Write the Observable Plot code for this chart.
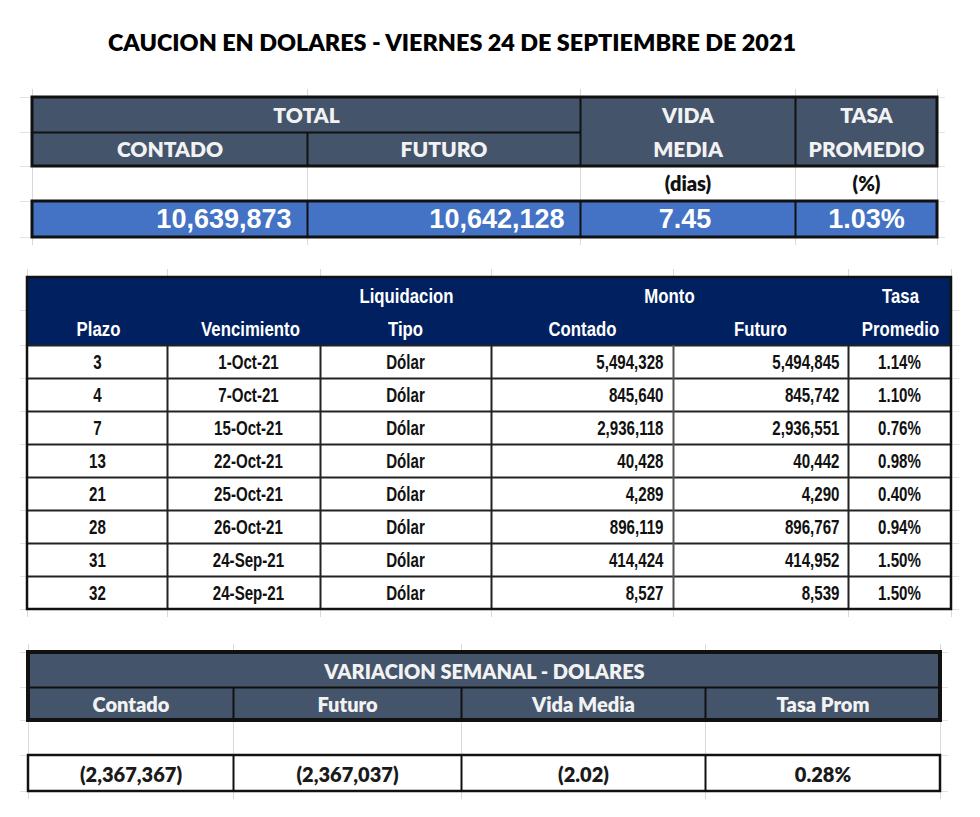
<!DOCTYPE html>
<html><head><meta charset="utf-8">
<script src="https://cdn.jsdelivr.net/npm/d3@7"></script>
<script src="https://cdn.jsdelivr.net/npm/@observablehq/plot@0.6"></script>
<style>
body{margin:0;background:#fff;width:980px;overflow:hidden;}
#title{height:70px;position:relative;font-family:Lato,"Open Sans",sans-serif;font-weight:800;font-size:23px;color:#000;}
#title span{position:absolute;left:108px;top:29px;white-space:nowrap;transform-origin:0 50%;line-height:26px;display:inline-block}
#chart svg{display:block}
</style></head><body>
<div id="title"><span id="t"></span></div>
<div id="chart"></div>
<script>
// ---------- DATA ----------
const title = "CAUCION EN DOLARES - VIERNES 24 DE SEPTIEMBRE DE 2021";

// Table 1: totals
const t1Header1 = ["TOTAL", "VIDA", "TASA"];
const t1Header2 = ["CONTADO", "FUTURO", "MEDIA", "PROMEDIO"];
const t1Units = ["(dias)", "(%)"];
const totalContado = 10639873;
const totalFuturo = 10642128;
const vidaMedia = 7.45;
const tasaPromedio = 1.03;

// Table 2: detail by term
const t2Header1 = ["Liquidacion", "Monto", "Tasa"];
const t2Header2 = ["Plazo", "Vencimiento", "Tipo", "Contado", "Futuro", "Promedio"];
const plazo = [3, 4, 7, 13, 21, 28, 31, 32];
const vencimiento = ["1-Oct-21", "7-Oct-21", "15-Oct-21", "22-Oct-21", "25-Oct-21", "26-Oct-21", "24-Sep-21", "24-Sep-21"];
const tipo = ["Dólar", "Dólar", "Dólar", "Dólar", "Dólar", "Dólar", "Dólar", "Dólar"];
const montoContado = [5494328, 845640, 2936118, 40428, 4289, 896119, 414424, 8527];
const montoFuturo = [5494845, 845742, 2936551, 40442, 4290, 896767, 414952, 8539];
const tasa = [1.14, 1.10, 0.76, 0.98, 0.40, 0.94, 1.50, 1.50];

// Table 3: weekly variation
const t3Title = "VARIACION SEMANAL - DOLARES";
const t3Header = ["Contado", "Futuro", "Vida Media", "Tasa Prom"];
const varContado = -2367367;
const varFuturo = -2367037;
const varVidaMedia = -2.02;
const varTasa = 0.28;

// ---------- LAYOUT (page pixel grid) ----------
const T1x = [32, 307, 580, 795, 937];
const T1y = [97, 132, 166, 201, 237];
const T2x = [27, 167, 320, 491, 673, 848, 951];
const T2top = 277, T2head = 345, T2row = 33;
const T3x = [28, 233, 461, 705, 940];
const T3y = [652, 687, 720, 755, 791];

// ---------- FORMAT ----------
const fmtInt = d3.format(",");
const fmt2 = d3.format(".2f");
const acct = (v, f) => v < 0 ? `(${f(-v)})` : f(v);
const pct = v => fmt2(v) + "%";
const mid = (a, b) => (a + b) / 2;

document.getElementById("t").textContent = title;

// ---------- BUILD CELLS ----------
const T2y = d3.range(plazo.length + 1).map(i => T2head + i * T2row);
const T2bottom = T2y[T2y.length - 1];

const fills = [
  {x1: T1x[0], x2: T1x[4], y1: T1y[0], y2: T1y[2], fill: "#44546a"},
  {x1: T1x[0], x2: T1x[4], y1: T1y[3], y2: T1y[4], fill: "#4472c4"},
  {x1: T2x[0], x2: T2x[6], y1: T2top, y2: T2head, fill: "#002060"},
  {x1: T3x[0], x2: T3x[4], y1: T3y[0], y2: T3y[2], fill: "#44546a"}
];

// faint spreadsheet gridlines
const gridV = [
  ...T1x.map(x => ({x, y1: T1y[0] - 8, y2: T1y[4] + 8})),
  ...T2x.map(x => ({x, y1: T2top - 8, y2: T2bottom + 8})),
  ...T3x.map(x => ({x, y1: T3y[0] - 8, y2: T3y[4] + 8}))
];
const gridH = [
  ...T1y.map(y => ({y, x1: 20, x2: T1x[4] + 8})),
  ...[T2top + 33, ...T2y].map(y => ({y, x1: 20, x2: T2x[6] + 8})),
  ...T3y.map(y => ({y, x1: 20, x2: T3x[4] + 8}))
];

const boxes = [
  {x1: T1x[0], x2: T1x[4], y1: T1y[0], y2: T1y[2], w: 3},
  {x1: T1x[0], x2: T1x[4], y1: T1y[3], y2: T1y[4], w: 3},
  {x1: T2x[0], x2: T2x[6], y1: T2top, y2: T2bottom, w: 2.5},
  {x1: T3x[0], x2: T3x[4], y1: T3y[0], y2: T3y[2], w: 4},
  {x1: T3x[0], x2: T3x[4], y1: T3y[3], y2: T3y[4], w: 2.5}
];
const linesH = [
  {y: T1y[1], x1: T1x[0], x2: T1x[2], s: "#111"},
  ...T2y.slice(0, -1).map(y => ({y, x1: T2x[0], x2: T2x[6], s: "#222"})),
  {y: T3y[1], x1: T3x[0], x2: T3x[4], s: "#111"}
];
const linesV = [
  {x: T1x[1], y1: T1y[1], y2: T1y[2], s: "#111"},
  {x: T1x[2], y1: T1y[0], y2: T1y[2], s: "#111"},
  {x: T1x[3], y1: T1y[0], y2: T1y[2], s: "#111"},
  ...T1x.slice(1, 4).map(x => ({x, y1: T1y[3], y2: T1y[4], s: "#111"})),
  ...[1, 2, 3, 5].map(i => ({x: T2x[i], y1: T2head, y2: T2bottom, s: "#222"})),
  {x: T2x[4], y1: T2head, y2: T2bottom, s: "#555"},
  ...T3x.slice(1, 4).map(x => ({x, y1: T3y[1], y2: T3y[2], s: "#111"})),
  ...T3x.slice(1, 4).map(x => ({x, y1: T3y[3], y2: T3y[4], s: "#111"}))
];

// text cells
const t1Head = [
  {x: mid(T1x[0], T1x[2]), y: 116, text: t1Header1[0]},
  {x: mid(T1x[2], T1x[3]), y: 116, text: t1Header1[1]},
  {x: mid(T1x[3], T1x[4]), y: 116, text: t1Header1[2]},
  ...t1Header2.map((t, i) => ({x: mid(T1x[i], T1x[i + 1]), y: 150, text: t}))
];
const t1UnitCells = t1Units.map((t, i) => ({x: mid(T1x[i + 2], T1x[i + 3]), y: 184, text: t}));
const t1ValRight = [
  {x: T1x[1] - 16, y: 219, text: fmtInt(totalContado)},
  {x: T1x[2] - 16, y: 219, text: fmtInt(totalFuturo)}
];
const t1ValMid = [
  {x: mid(T1x[2], T1x[3]) - 3, y: 219, text: fmt2(vidaMedia)},
  {x: mid(T1x[3], T1x[4]), y: 219, text: pct(tasaPromedio)}
];

const t2Head = [
  {x: 406, y: 296, text: t2Header1[0]},
  {x: 669, y: 296, text: t2Header1[1]},
  {x: 900, y: 296, text: t2Header1[2]},
  ...[98, 250, 405, 582, 760, 900].map((x, i) => ({x, y: 329, text: t2Header2[i]}))
];
const rowY = i => T2y[i] + T2row / 2 + 1;
const t2Mid = [
  ...plazo.map((v, i) => ({x: 97, y: rowY(i), text: String(v)})),
  ...vencimiento.map((v, i) => ({x: 248, y: rowY(i), text: v})),
  ...tipo.map((v, i) => ({x: 405, y: rowY(i), text: v})),
  ...tasa.map((v, i) => ({x: 899, y: rowY(i), text: pct(v)}))
];
const t2Right = [
  ...montoContado.map((v, i) => ({x: T2x[4] - 10, y: rowY(i), text: fmtInt(v)})),
  ...montoFuturo.map((v, i) => ({x: T2x[5] - 9, y: rowY(i), text: fmtInt(v)}))
];

const t3Head = [
  {x: mid(T3x[0], T3x[4]), y: 672, text: t3Title},
  ...t3Header.map((t, i) => ({x: mid(T3x[i], T3x[i + 1]), y: 705, text: t}))
];
const t3Vals = [acct(varContado, fmtInt), acct(varFuturo, fmtInt), acct(varVidaMedia, fmt2), pct(varTasa)]
  .map((t, i) => ({x: mid(T3x[i], T3x[i + 1]), y: 775, text: t}));

const calibri = "Lato, 'Open Sans', sans-serif";
const arial = "'Liberation Sans', Arial, sans-serif";

const chart = Plot.plot({
  width: 980, height: 747, margin: 0,
  x: {domain: [0, 980], range: [0, 980], axis: null},
  y: {domain: [70, 817], range: [0, 747], axis: null},
  marks: [
    Plot.ruleX(gridV, {x: "x", y1: "y1", y2: "y2", stroke: "#d9d9d9", strokeWidth: 1}),
    Plot.ruleY(gridH, {y: "y", x1: "x1", x2: "x2", stroke: "#e3e3e3", strokeWidth: 1}),
    Plot.rect(fills, {x1: "x1", x2: "x2", y1: "y1", y2: "y2", fill: "fill"}),
    Plot.ruleY(linesH, {y: "y", x1: "x1", x2: "x2", stroke: "s", strokeWidth: 2}),
    Plot.ruleX(linesV, {x: "x", y1: "y1", y2: "y2", stroke: "s", strokeWidth: 2}),
    ...boxes.map(b => Plot.rect([b], {x1: "x1", x2: "x2", y1: "y1", y2: "y2", fill: "none", stroke: "#111", strokeWidth: b.w})),
    // Table 1 text
    Plot.text(t1Head, {x: "x", y: "y", text: "text", fill: "#f2f2f2", fontFamily: calibri, fontWeight: 800, fontSize: 21}),
    Plot.text(t1UnitCells, {x: "x", y: "y", text: "text", fill: "#111", fontFamily: calibri, fontWeight: 800, fontSize: 20}),
    Plot.text(t1ValRight, {x: "x", y: "y", text: "text", textAnchor: "end", fill: "#fff", fontFamily: arial, fontWeight: 700, fontSize: 27}),
    Plot.text(t1ValMid, {x: "x", y: "y", text: "text", fill: "#fff", fontFamily: arial, fontWeight: 700, fontSize: 27}),
    // Table 2 text (Arial Narrow look: condensed after render)
    Plot.text(t2Head, {x: "x", y: "y", text: "text", fill: "#fff", fontFamily: arial, fontWeight: 700, fontSize: 20, ariaDescription: "narrow-head"}),
    Plot.text(t2Mid, {x: "x", y: "y", text: "text", fill: "#111", fontFamily: arial, fontWeight: 700, fontSize: 20, ariaDescription: "narrow-body"}),
    Plot.text(t2Right, {x: "x", y: "y", text: "text", textAnchor: "end", fill: "#111", fontFamily: arial, fontWeight: 700, fontSize: 20, ariaDescription: "narrow-body"}),
    // Table 3 text
    Plot.text(t3Head, {x: "x", y: "y", text: "text", fill: "#f2f2f2", fontFamily: calibri, fontWeight: 800, fontSize: 20}),
    Plot.text(t3Vals, {x: "x", y: "y", text: "text", fill: "#1a1a1a", fontFamily: calibri, fontWeight: 800, fontSize: 20})
  ]
});
document.getElementById("chart").appendChild(chart);

// condense table-2 text horizontally (Arial Narrow substitute)
function condense(label, s) {
  chart.querySelectorAll(`g[aria-description="${label}"] text`).forEach(t => {
    const tr = t.getAttribute("transform");
    if (tr) {
      t.setAttribute("transform", tr + ` scale(${s},1)`);
    } else {
      const x = +(t.getAttribute("x") || 0), y = +(t.getAttribute("y") || 0);
      t.removeAttribute("x"); t.removeAttribute("y");
      t.setAttribute("transform", `translate(${x},${y}) scale(${s},1)`);
    }
  });
}
condense("narrow-head", 0.84);
condense("narrow-body", 0.755);

// fit title to the reference width
const span = document.getElementById("t");
const w = span.getBoundingClientRect().width;
if (w > 0) span.style.transform = `scaleX(${688 / w})`;
</script>
</body></html>
